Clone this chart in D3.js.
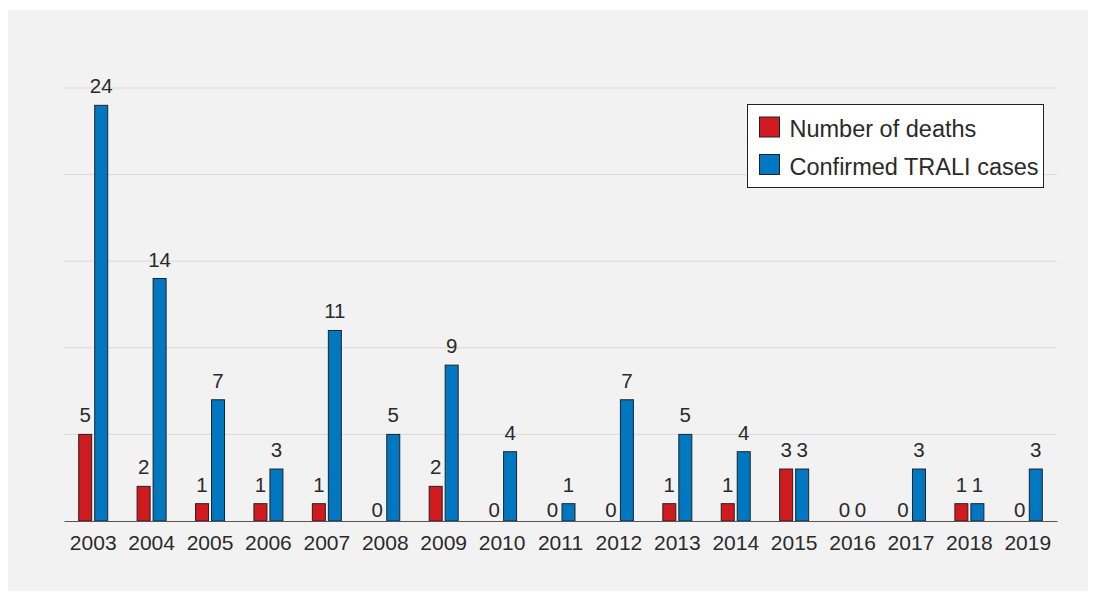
<!DOCTYPE html>
<html>
<head>
<meta charset="utf-8">
<script src="https://cdn.jsdelivr.net/npm/d3@7"></script>
<style>
  html, body { margin: 0; padding: 0; background: #fff; }
  text { font-family: "Helvetica Neue", Helvetica, "Liberation Sans", Arial, sans-serif; fill: #2a2a2a; }
</style>
</head>
<body>
<svg id="chart"></svg>
<script>
const years = ["2003", "2004", "2005", "2006", "2007", "2008", "2009", "2010", "2011",
    "2012", "2013", "2014", "2015", "2016", "2017", "2018", "2019"];
const deaths = [5, 2, 1, 1, 1, 0, 2, 0, 0, 0, 1, 1, 3, 0, 0, 1, 0];
const traliCases = [24, 14, 7, 3, 11, 5, 9, 4, 1, 7, 5, 4, 3, 0, 3, 1, 3];
const seriesNames = ["Number of deaths", "Confirmed TRALI cases"];
const gridTicks = [5, 10, 15, 20, 25];

const width = 1096, height = 601;
const margins = { top: 88, right: 39, bottom: 80, left: 64 };
const colors = ["#cf1a1f", "#0077c1"];

const svg = d3.select("#chart")
    .attr("width", width)
    .attr("height", height);

// grey panel
svg.append("rect")
    .attr("x", 8).attr("y", 10)
    .attr("width", 1080).attr("height", 581)
    .attr("fill", "#f2f2f2");

const xScale = d3.scaleBand()
    .domain(years)
    .range([margins.left, width - margins.right]);

const yScale = d3.scaleLinear()
    .domain([0, 25])
    .range([height - margins.bottom, margins.top]);

// grid lines
svg.append("g")
    .selectAll("line")
    .data(gridTicks)
    .join("line")
    .attr("x1", margins.left)
    .attr("x2", width - margins.right)
    .attr("y1", d => yScale(d))
    .attr("y2", d => yScale(d))
    .attr("stroke", "#d9d9d9")
    .attr("stroke-width", 1);

const barW = 13, gap = 3;
const offsets = [-(barW + gap / 2), gap / 2];

const series = [deaths, traliCases];

series.forEach(function(values, s) {
    const g = svg.append("g");
    const rows = values.map((v, i) => ({ year: years[i], value: v }));
    const xOf = d => xScale(d.year) + xScale.bandwidth() / 2 + offsets[s];

    g.selectAll("rect")
        .data(rows.filter(d => d.value > 0))
        .join("rect")
        .attr("x", xOf)
        .attr("y", d => yScale(d.value))
        .attr("width", barW)
        .attr("height", d => yScale(0) - yScale(d.value))
        .attr("fill", colors[s])
        .attr("stroke", "#222")
        .attr("stroke-width", 1);

    g.selectAll("text")
        .data(rows)
        .join("text")
        .attr("x", d => xOf(d) + barW / 2)
        .attr("y", d => d.value > 0 ? yScale(d.value) - 12 : yScale(0) - 4)
        .attr("text-anchor", "middle")
        .attr("font-size", 20.5)
        .text(d => d.value);
});

// x axis
const xAxis = d3.axisBottom(xScale).tickSize(0).tickPadding(14);
const axisG = svg.append("g")
    .attr("transform", "translate(0," + yScale(0) + ")")
    .call(xAxis);
axisG.select(".domain").attr("stroke", "#555").attr("stroke-width", 1.2);
axisG.selectAll("text")
    .attr("font-size", 21)
    .attr("fill", "#2a2a2a")
    .style("font-family", "\"Helvetica Neue\", Helvetica, \"Liberation Sans\", Arial, sans-serif");

// legend
const legend = svg.append("g").attr("transform", "translate(747.5,104.5)");
legend.append("rect")
    .attr("width", 296).attr("height", 83)
    .attr("fill", "#fff")
    .attr("stroke", "#222")
    .attr("stroke-width", 1);
seriesNames.forEach(function(name, i) {
    legend.append("rect")
        .attr("x", 12).attr("y", 12.5 + i * 37.5)
        .attr("width", 20).attr("height", 20)
        .attr("fill", colors[i])
        .attr("stroke", "#222");
    legend.append("text")
        .attr("x", 42).attr("y", 32.5 + i * 37.5)
        .attr("font-size", 23.5)
        .text(name);
});
</script>
</body>
</html>
